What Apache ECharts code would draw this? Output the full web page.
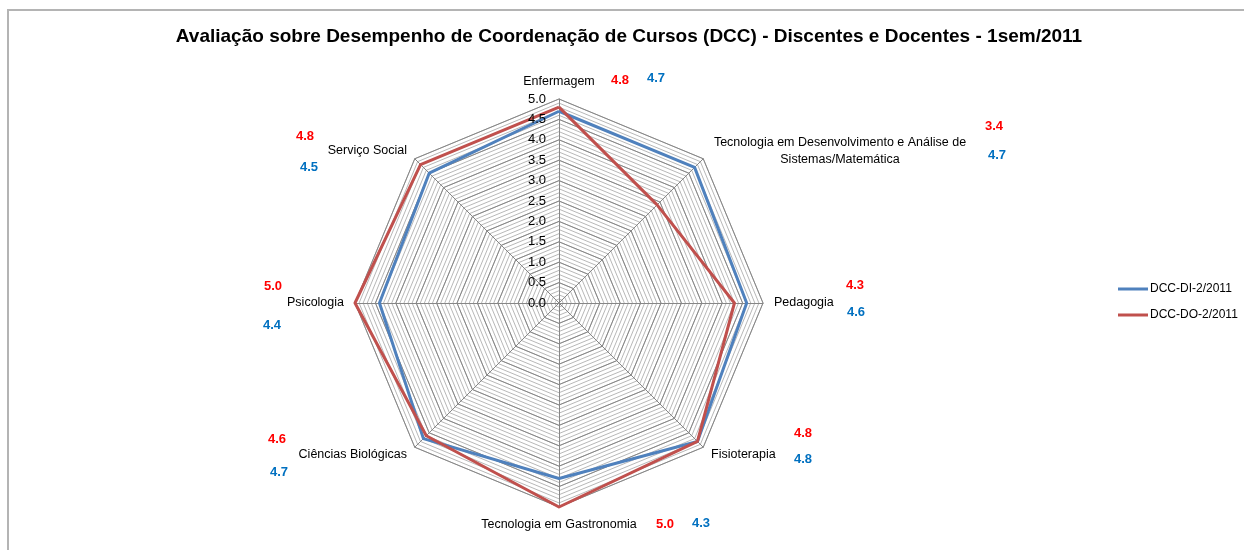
<!DOCTYPE html>
<html>
<head>
<meta charset="utf-8">
<script src="https://cdn.jsdelivr.net/npm/echarts@6/dist/echarts.min.js"></script>
<style>
html,body{margin:0;padding:0;background:#fff;}
#chart{width:1244px;height:550px;}
</style>
</head>
<body>
<div id="chart"></div>
<script>
// ---- data (reference order, clockwise from top) ----
const categories = [
  'Enfermagem',
  'Tecnologia em Desenvolvimento e Análise de\nSistemas/Matemática',
  'Pedagogia',
  'Fisioterapia',
  'Tecnologia em Gastronomia',
  'Ciências Biológicas',
  'Psicologia',
  'Serviço Social'
];
const seriesNames = ['DCC-DI-2/2011', 'DCC-DO-2/2011'];
const valuesDI = [4.7, 4.7, 4.6, 4.8, 4.3, 4.7, 4.4, 4.5];
const valuesDO = [4.8, 3.4, 4.3, 4.8, 5.0, 4.6, 5.0, 4.8];
const axisMin = 0;
const axisMax = 5;
const axisStep = 0.5;
const minorStep = 0.1;

// ---- layout (positions of the value annotations) ----
const annotPos = [
  [[620, 80], [656, 78]],
  [[994, 126], [997, 155]],
  [[855, 285], [856, 312]],
  [[803, 433], [803, 459]],
  [[665, 524], [701, 523]],
  [[277, 439], [279, 472]],
  [[273, 286], [272, 325]],
  [[305, 136], [309, 167]]
];

const CX = 559, CY = 303, R = 204;
const FONT = '"Liberation Sans", Arial, sans-serif';
const BLUE = '#4F81BD', RED = '#C0504D';

// ECharts places radar indicators counter-clockwise; reorder to get clockwise
const order = [0, 7, 6, 5, 4, 3, 2, 1];
const indicators = order.map(i => ({ name: categories[i], min: axisMin, max: axisMax }));
const dataDI = order.map(i => valuesDI[i]);
const dataDO = order.map(i => valuesDO[i]);

const graphics = [{
  type: 'rect', silent: true, z: -10,
  shape: { x: 8, y: 10, width: 1400, height: 700 },
  style: { fill: 'none', stroke: '#b4b4b4', lineWidth: 2 }
}];
categories.forEach((c, i) => {
  const [rp, bp] = annotPos[i];
  graphics.push({
    type: 'text', x: rp[0], y: rp[1], z: 10,
    style: { text: valuesDO[i].toFixed(1), fill: '#FF0000', font: 'bold 13px ' + FONT, align: 'center', verticalAlign: 'middle' }
  });
  graphics.push({
    type: 'text', x: bp[0], y: bp[1], z: 10,
    style: { text: valuesDI[i].toFixed(1), fill: '#0070C0', font: 'bold 13px ' + FONT, align: 'center', verticalAlign: 'middle' }
  });
});

const chart = echarts.init(document.getElementById('chart'), null, { renderer: 'canvas' });
chart.setOption({
  animation: false,
  backgroundColor: '#fff',
  textStyle: { fontFamily: FONT },
  title: {
    text: 'Avaliação sobre Desempenho de Coordenação de Cursos (DCC) - Discentes e Docentes - 1sem/2011',
    left: 624, top: 22, textAlign: 'center',
    textStyle: { fontFamily: FONT, fontSize: 19, fontWeight: 'bold', color: '#000' }
  },
  legend: {
    orient: 'vertical',
    left: 1118, top: 283, padding: 0,
    itemWidth: 30, itemHeight: 3, itemGap: 14,
    icon: 'rect',
    data: seriesNames,
    textStyle: { fontFamily: FONT, fontSize: 12, color: '#000', padding: [0, 0, 0, -3] }
  },
  grid: { left: CX, top: CY - R, width: 1, height: R, containLabel: false, z: 20 },
  xAxis: { type: 'value', show: false },
  yAxis: {
    type: 'value', min: axisMin, max: axisMax, interval: axisStep, z: 20,
    axisLine: { show: false }, axisTick: { show: false }, splitLine: { show: false },
    axisLabel: { margin: 13, fontSize: 13, color: '#000', fontFamily: FONT, formatter: v => v.toFixed(1) }
  },
  radar: [{
    center: [CX, CY], radius: R, startAngle: 90, shape: 'polygon',
    splitNumber: Math.round((axisMax - axisMin) / minorStep),
    indicator: indicators,
    axisName: { show: false },
    axisLine: { show: false },
    splitLine: { lineStyle: { color: '#b8b8b8', width: 1 } },
    splitArea: { show: false },
    silent: true, z: 1
  }, {
    center: [CX, CY], radius: R, startAngle: 90, shape: 'polygon',
    splitNumber: Math.round((axisMax - axisMin) / axisStep),
    indicator: indicators,
    nameGap: 11,
    axisName: {
      color: '#000', fontSize: 12.5, fontFamily: FONT,
      formatter: function (name) {
        if (name.indexOf('\n') >= 0) {
          return name.split('\n').map(s => '{t|' + s + '}').join('\n');
        }
        return name;
      },
      rich: { t: { width: 258, align: 'center', fontSize: 12.5, fontFamily: FONT, color: '#000', lineHeight: 17 } }
    },
    axisLine: { lineStyle: { color: '#868686', width: 1 } },
    splitLine: { lineStyle: { color: '#868686', width: 1 } },
    splitArea: { show: false },
    z: 2
  }],
  series: [{
    name: seriesNames[0], type: 'radar', radarIndex: 1, z: 3,
    symbol: 'none', lineStyle: { color: BLUE, width: 3 }, itemStyle: { color: BLUE },
    data: [{ value: dataDI, name: seriesNames[0] }]
  }, {
    name: seriesNames[1], type: 'radar', radarIndex: 1, z: 4,
    symbol: 'none', lineStyle: { color: RED, width: 3 }, itemStyle: { color: RED },
    data: [{ value: dataDO, name: seriesNames[1] }]
  }],
  graphic: graphics
});
</script>
</body>
</html>
